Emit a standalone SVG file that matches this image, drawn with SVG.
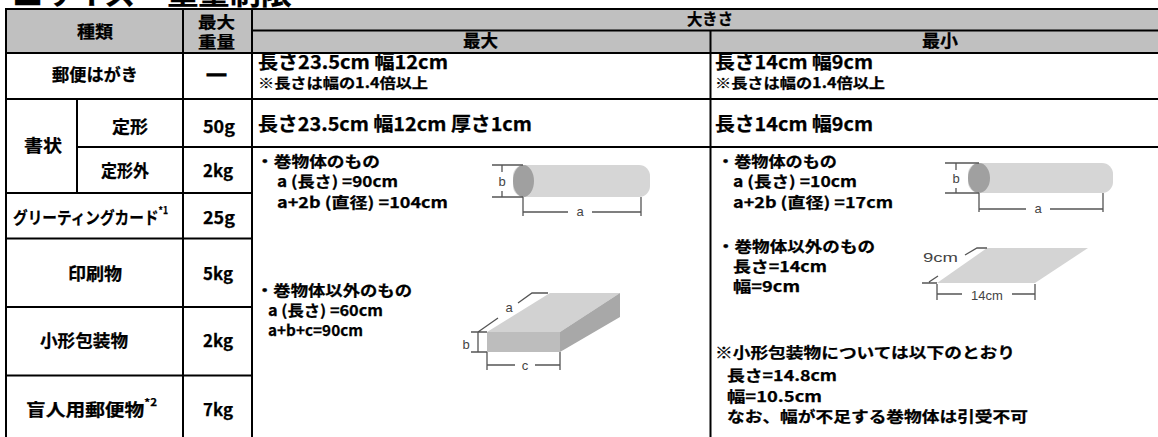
<svg xmlns="http://www.w3.org/2000/svg" width="1158" height="437" viewBox="0 0 1158 437">
<style>
text{font-family:"Noto Sans CJK JP","Noto Sans",sans-serif;font-weight:bold;fill:#000;stroke:#000;stroke-width:0.25}
.h{font-size:17px}
.hs{font-size:16px}
.b{font-size:19px}
.n{font-size:14px}
.t{font-size:15px}
.dl{font-family:"Liberation Sans","Noto Sans",sans-serif;font-weight:normal;font-size:13px;fill:#444;stroke:none}
.grid line{stroke:#000;stroke-width:2}
.dim{stroke:#555;stroke-width:1.3;fill:none}
</style>
<rect width="1158" height="437" fill="#fff"/>
<text id="title" x="12" y="3.5" style="font-size:30px" textLength="280" lengthAdjust="spacingAndGlyphs">■サイズ・重量制限</text>
<g id="header-bg">
<rect x="6" y="9" width="1170" height="44" fill="#c0c0c0"/>
</g>
<g id="grid" class="grid">
<line x1="5" y1="9" x2="1170" y2="9"/>
<line x1="252" y1="30.5" x2="1170" y2="30.5"/>
<line x1="5" y1="53" x2="1170" y2="53"/>
<line x1="5" y1="99" x2="1170" y2="99"/>
<line x1="77" y1="147" x2="1170" y2="147"/>
<line x1="5" y1="193" x2="252" y2="193"/>
<line x1="5" y1="238.5" x2="252" y2="238.5"/>
<line x1="5" y1="307" x2="252" y2="307"/>
<line x1="5" y1="375.5" x2="252" y2="375.5"/>
<line x1="6" y1="8" x2="6" y2="437"/>
<line x1="77" y1="99" x2="77" y2="193"/>
<line x1="183" y1="8" x2="183" y2="437"/>
<line x1="252" y1="8" x2="252" y2="437"/>
<line x1="710.5" y1="30.5" x2="710.5" y2="437"/>
</g>
<g id="hdr-kind"><text class="h" x="77" y="38" textLength="36" lengthAdjust="spacingAndGlyphs">種類</text></g>
<g id="hdr-weight">
<text class="hs"><tspan x="198" y="28" textLength="37" lengthAdjust="spacingAndGlyphs">最大</tspan><tspan x="198" y="48" textLength="37" lengthAdjust="spacingAndGlyphs">重量</tspan></text>
</g>
<g id="hdr-size"><text class="hs" x="687" y="25" textLength="46" lengthAdjust="spacingAndGlyphs">大きさ</text></g>
<g id="hdr-max"><text class="h" x="463" y="47" textLength="35" lengthAdjust="spacingAndGlyphs">最大</text></g>
<g id="hdr-min"><text class="h" x="922" y="47" textLength="36" lengthAdjust="spacingAndGlyphs">最小</text></g>

<g id="row-postcard">
<text class="h" x="52" y="81" textLength="86" lengthAdjust="spacingAndGlyphs">郵便はがき</text>
<text class="h" x="204" y="81" textLength="25" lengthAdjust="spacingAndGlyphs" style="stroke-width:1.6">－</text>
<text class="b" x="258" y="69" textLength="190" lengthAdjust="spacingAndGlyphs">長さ23.5cm 幅12cm</text>
<text class="n" x="258" y="88" textLength="170" lengthAdjust="spacingAndGlyphs">※長さは幅の1.4倍以上</text>
<text class="b" x="715" y="69" textLength="158" lengthAdjust="spacingAndGlyphs">長さ14cm 幅9cm</text>
<text class="n" x="715" y="88" textLength="170" lengthAdjust="spacingAndGlyphs">※長さは幅の1.4倍以上</text>
</g>
<g id="row-letter"><text class="h" x="24" y="152" textLength="38" lengthAdjust="spacingAndGlyphs">書状</text></g>
<g id="row-standard">
<text class="h" x="112" y="133" textLength="36" lengthAdjust="spacingAndGlyphs">定形</text>
<text class="h" x="203" y="133" textLength="32" lengthAdjust="spacingAndGlyphs">50g</text>
<text class="b" x="258" y="131" textLength="274" lengthAdjust="spacingAndGlyphs">長さ23.5cm 幅12cm 厚さ1cm</text>
<text class="b" x="715" y="131" textLength="158" lengthAdjust="spacingAndGlyphs">長さ14cm 幅9cm</text>
</g>
<g id="row-nonstandard">
<text class="h" x="101" y="177" textLength="48" lengthAdjust="spacingAndGlyphs">定形外</text>
<text class="h" x="203" y="177" textLength="30" lengthAdjust="spacingAndGlyphs">2kg</text>
</g>
<g id="row-card">
<text class="h" x="13" y="224" textLength="155" lengthAdjust="spacingAndGlyphs">グリーティングカード<tspan dy="-10" style="font-size:10px">*1</tspan></text>
<text class="h" x="203" y="224" textLength="32" lengthAdjust="spacingAndGlyphs">25g</text>
</g>
<g id="row-print">
<text class="h" x="68" y="280" textLength="54" lengthAdjust="spacingAndGlyphs">印刷物</text>
<text class="h" x="203" y="280" textLength="30" lengthAdjust="spacingAndGlyphs">5kg</text>
</g>
<g id="row-small">
<text class="h" x="40" y="347" textLength="88" lengthAdjust="spacingAndGlyphs">小形包装物</text>
<text class="h" x="203" y="347" textLength="30" lengthAdjust="spacingAndGlyphs">2kg</text>
</g>
<g id="row-blind">
<text class="h" x="26" y="416" textLength="131" lengthAdjust="spacingAndGlyphs">盲人用郵便物<tspan dy="-10" style="font-size:10px">*2</tspan></text>
<text class="h" x="203" y="416" textLength="30" lengthAdjust="spacingAndGlyphs">7kg</text>
</g>

<g id="cell-max">
<text class="t" x="256" y="167" textLength="124" lengthAdjust="spacingAndGlyphs">・巻物体のもの</text>
<text class="t" x="277" y="187" textLength="121" lengthAdjust="spacingAndGlyphs">a (長さ) =90cm</text>
<text class="t" x="277" y="208" textLength="171" lengthAdjust="spacingAndGlyphs">a+2b (直径) =104cm</text>
<text class="t" x="256" y="296" textLength="156" lengthAdjust="spacingAndGlyphs">・巻物体以外のもの</text>
<text class="t" x="268" y="316" textLength="115" lengthAdjust="spacingAndGlyphs">a (長さ) =60cm</text>
<text class="t" x="268" y="336" textLength="95" lengthAdjust="spacingAndGlyphs">a+b+c=90cm</text>
</g>
<g id="cylinder-max">
<rect x="513" y="165" width="137" height="32" rx="11" fill="#d6d6d6"/>
<ellipse cx="523.5" cy="181" rx="10.5" ry="16" fill="#a0a0a0"/>
<path class="dim" d="M492 165H523M492 197H523M502 165V172M502 191V197M523 197V216M641 197V216M523 212H568M592 212H641"/>
<text class="dl" x="502" y="186" text-anchor="middle">b</text>
<text class="dl" x="580" y="216" text-anchor="middle">a</text>
</g>
<g id="box-max">
<polygon points="487,332 560,332 620,293 550,293" fill="#d2d2d2"/>
<rect x="487" y="332" width="73" height="20" fill="#bdbdbd"/>
<polygon points="560,332 620,293 620,317 560,352" fill="#a8a8a8"/>
<path class="dim" d="M478 332L498 318M518 303L532 293H548M471 332H487M471 352H487M478 332V352M487 352V370M560 352V370M487 365H515M535 365H560"/>
<text class="dl" x="509" y="312" text-anchor="middle">a</text>
<text class="dl" x="466" y="349" text-anchor="middle">b</text>
<text class="dl" x="525" y="370" text-anchor="middle">c</text>
</g>

<g id="cell-min">
<text class="t" x="717" y="167" textLength="120" lengthAdjust="spacingAndGlyphs">・巻物体のもの</text>
<text class="t" x="733" y="187" textLength="124" lengthAdjust="spacingAndGlyphs">a (長さ) =10cm</text>
<text class="t" x="733" y="208" textLength="160" lengthAdjust="spacingAndGlyphs">a+2b (直径) =17cm</text>
<text class="t" x="717" y="252" textLength="158" lengthAdjust="spacingAndGlyphs">・巻物体以外のもの</text>
<text class="t" x="733" y="272" textLength="94" lengthAdjust="spacingAndGlyphs">長さ=14cm</text>
<text class="t" x="733" y="292" textLength="67" lengthAdjust="spacingAndGlyphs">幅=9cm</text>
<text class="t" x="715" y="358" textLength="300" lengthAdjust="spacingAndGlyphs">※小形包装物については以下のとおり</text>
<text class="t" x="727" y="381" textLength="110" lengthAdjust="spacingAndGlyphs">長さ=14.8cm</text>
<text class="t" x="727" y="402" textLength="95" lengthAdjust="spacingAndGlyphs">幅=10.5cm</text>
<text class="t" x="727" y="422" textLength="301" lengthAdjust="spacingAndGlyphs">なお、幅が不足する巻物体は引受不可</text>
</g>
<g id="cylinder-min">
<rect x="968" y="163" width="145" height="30" rx="11" fill="#d6d6d6"/>
<ellipse cx="979" cy="178" rx="11" ry="15" fill="#a0a0a0"/>
<path class="dim" d="M945 163H979M945 193H979M956 163V170M956 188V193M979 193V212M1103 193V212M979 209H1026M1050 209H1103"/>
<text class="dl" x="956" y="183" text-anchor="middle">b</text>
<text class="dl" x="1038" y="213" text-anchor="middle">a</text>
</g>
<g id="sheet-min">
<polygon points="987,248 1088,248 1035,283 937,283" fill="#d4d4d4"/>
<path class="dim" d="M965 255L977 248H987M922 283H937M929 282L938 276M937 284V300M1035 284V300M937 294H962M1012 294H1035"/>
<text class="dl" x="923" y="262" textLength="35" lengthAdjust="spacingAndGlyphs">9cm</text>
<text class="dl" x="987" y="300" text-anchor="middle">14cm</text>
</g>
</svg>
